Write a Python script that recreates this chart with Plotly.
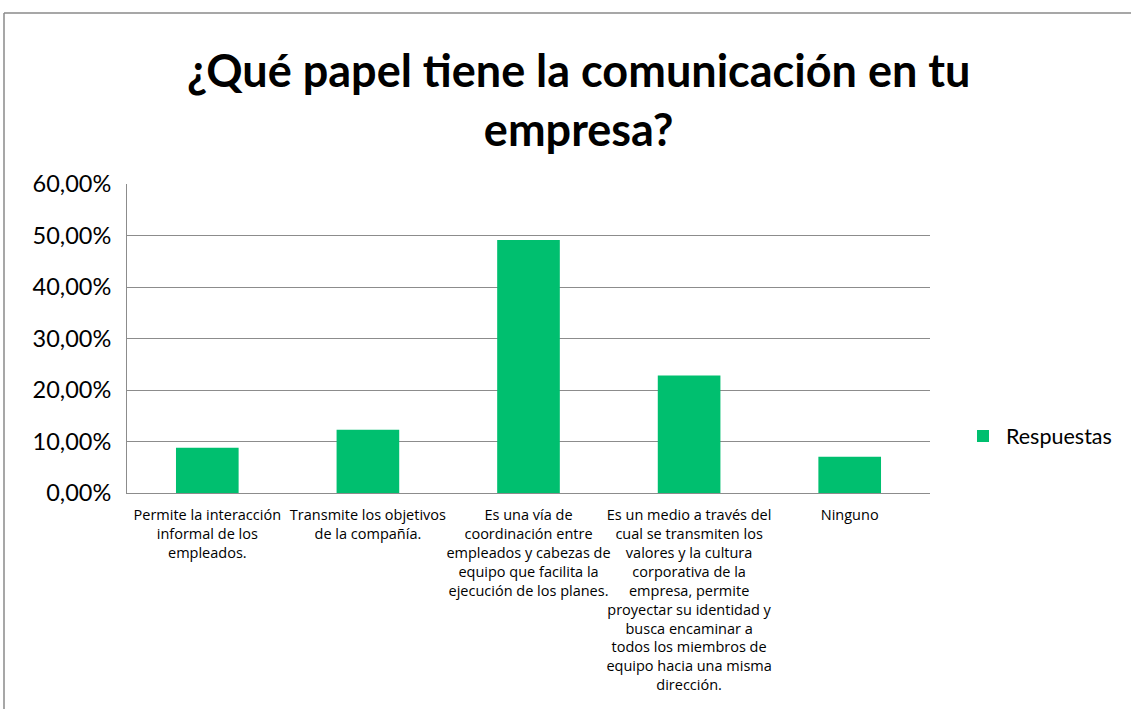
import plotly.graph_objects as go

# Survey answers and their share of responses
categories = [
    "Permite la interacción<br>informal de los<br>empleados.",
    "Transmite los objetivos<br>de la compañía.",
    "Es una vía de<br>coordinación entre<br>empleados y cabezas de<br>equipo que facilita la<br>ejecución de los planes.",
    "Es un medio a través del<br>cual se transmiten los<br>valores y la cultura<br>corporativa de la<br>empresa, permite<br>proyectar su identidad y<br>busca encaminar a<br>todos los miembros de<br>equipo hacia una misma<br>dirección.",
    "Ninguno",
]
respuestas = [0.0877, 0.1228, 0.4912, 0.2281, 0.0702]
y_ticks = [0, 0.1, 0.2, 0.3, 0.4, 0.5, 0.6]

GREEN = "#00BF6F"
GRID = "#8C8C8C"
FONT = "Lato, 'Open Sans', sans-serif"
LABEL_FONT = "'Open Sans', Lato, sans-serif"

W, H = 1131, 709
L, R, T, B = 127, 930, 184, 493  # plot area in pixels

fig = go.Figure()
fig.add_trace(go.Bar(
    x=categories,
    y=respuestas,
    name="Respuestas",
    marker=dict(color=GREEN, line=dict(width=0)),
))

def px_x(p):
    return (p - L) / (R - L)

def px_y(p):
    return (B - p) / (B - T)

# outer chart frame (top and left edges)
fig.add_shape(type="line", xref="paper", yref="paper",
              x0=px_x(4), x1=px_x(1135), y0=px_y(13), y1=px_y(13),
              line=dict(color="#8A8A8A", width=1.5))
fig.add_shape(type="line", xref="paper", yref="paper",
              x0=px_x(4), x1=px_x(4), y0=px_y(13), y1=px_y(712),
              line=dict(color="#8A8A8A", width=1.5))

# chart title
fig.add_annotation(
    text="<b>¿Qué papel tiene la comunicación en tu<br>empresa?</b>",
    xref="paper", yref="paper",
    x=px_x(578), y=px_y(99), xanchor="center", yanchor="middle",
    showarrow=False, align="center",
    font=dict(size=45, family=FONT, color="#000000"),
)

fig.update_layout(
    width=W, height=H,
    margin=dict(l=L, r=W - R, t=T, b=H - B, autoexpand=False),
    paper_bgcolor="white",
    plot_bgcolor="white",
    separators=",.",
    bargap=0.61,
    font=dict(family=FONT, color="#000000"),
    showlegend=True,
    legend=dict(
        x=px_x(960), y=px_y(436), xanchor="left", yanchor="middle",
        font=dict(size=21.5, family=FONT, color="#000000"),
        itemwidth=36,
    ),
    xaxis=dict(
        showline=True, linecolor=GRID, linewidth=1,
        ticks="", ticklabelstandoff=9,
        tickangle=0,
        tickfont=dict(size=14.5, family=LABEL_FONT, color="#000000"),
        showgrid=False,
    ),
    yaxis=dict(
        range=[0, 0.6],
        tickvals=y_ticks,
        tickformat=".2%",
        showline=True, linecolor=GRID, linewidth=1,
        ticks="", ticklabelstandoff=10,
        showgrid=True, gridcolor=GRID, gridwidth=1,
        tickfont=dict(size=23.5, family=FONT, color="#000000"),
        zeroline=False,
    ),
)

fig.write_html("out.html")
